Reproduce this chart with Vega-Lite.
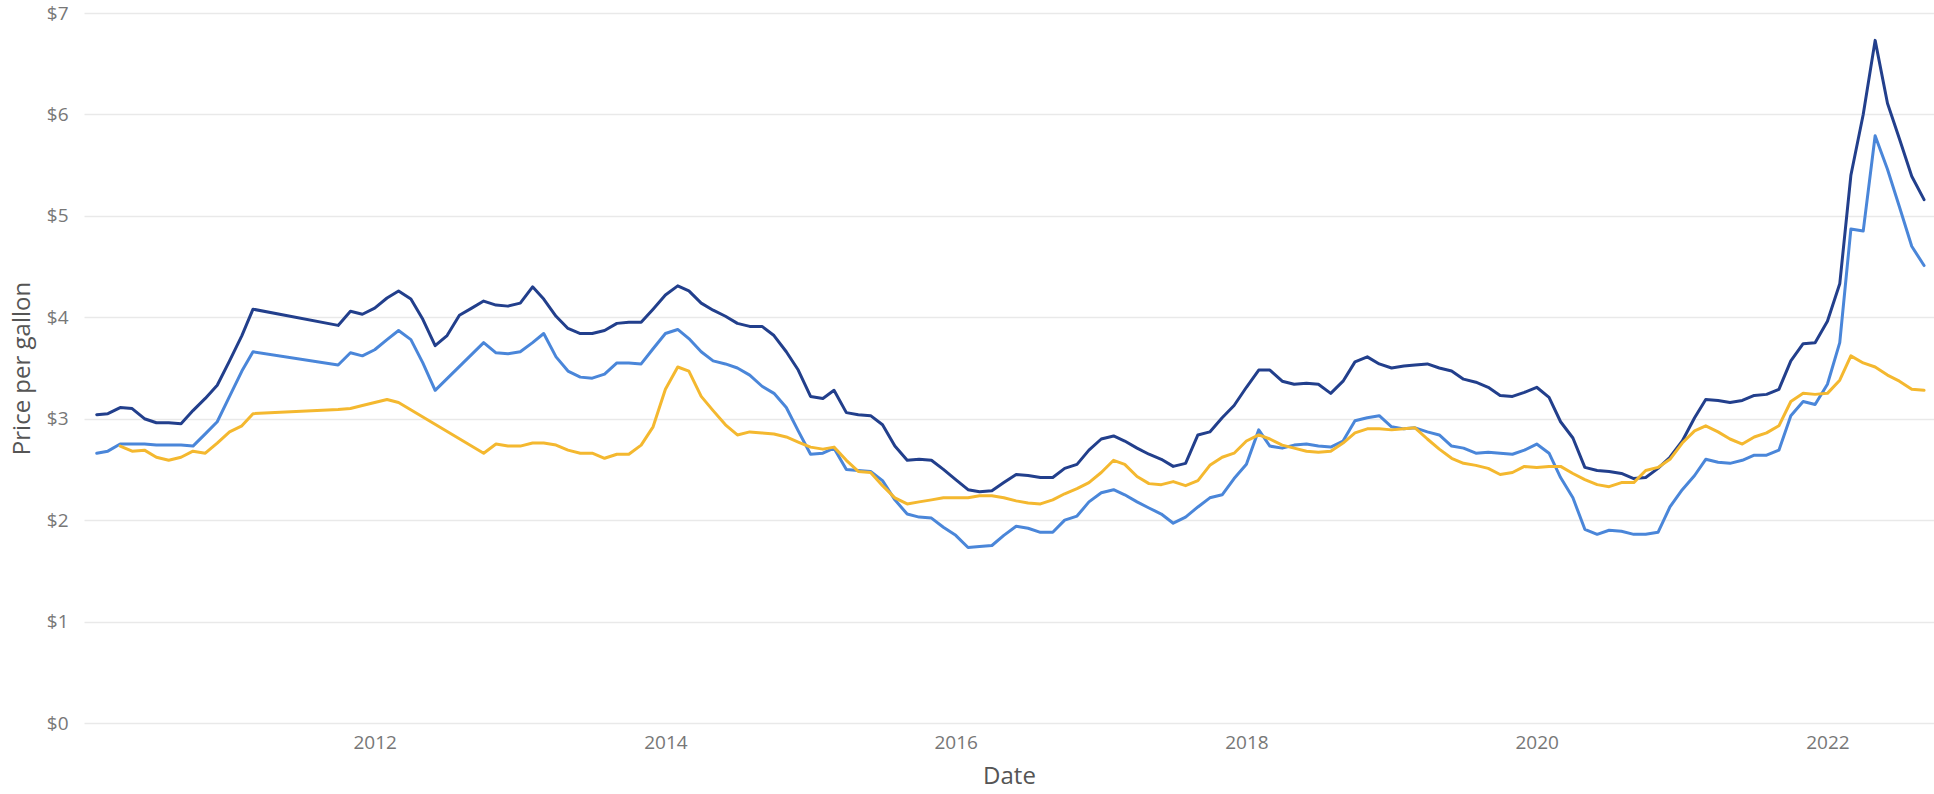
{
"$schema": "https://vega.github.io/schema/vega-lite/v6.json",
"width": 1850,
"height": 710,
"autosize": {"type": "none"},
"padding": {"left": 84, "top": 13, "right": 0, "bottom": 71},
"background": "white",
"config": {"view": {"stroke": null}, "font": "Open Sans"},
"datasets": {
"prices": [
{"date":"2010-02-01","series":"A","price":3.04},{"date":"2010-03-01","series":"A","price":3.05},{"date":"2010-04-01","series":"A","price":3.11},{"date":"2010-05-01","series":"A","price":3.10},{"date":"2010-06-01","series":"A","price":3.00},{"date":"2010-07-01","series":"A","price":2.96},{"date":"2010-08-01","series":"A","price":2.96},{"date":"2010-09-01","series":"A","price":2.95},{"date":"2010-10-01","series":"A","price":3.08},{"date":"2010-11-01","series":"A","price":3.20},{"date":"2010-12-01","series":"A","price":3.33},
{"date":"2011-01-01","series":"A","price":3.57},{"date":"2011-02-01","series":"A","price":3.82},{"date":"2011-03-01","series":"A","price":4.08},{"date":"2011-10-01","series":"A","price":3.92},{"date":"2011-11-01","series":"A","price":4.06},{"date":"2011-12-01","series":"A","price":4.03},
{"date":"2012-01-01","series":"A","price":4.09},{"date":"2012-02-01","series":"A","price":4.19},{"date":"2012-03-01","series":"A","price":4.26},{"date":"2012-04-01","series":"A","price":4.18},{"date":"2012-05-01","series":"A","price":3.98},{"date":"2012-06-01","series":"A","price":3.72},{"date":"2012-07-01","series":"A","price":3.82},{"date":"2012-08-01","series":"A","price":4.02},{"date":"2012-09-01","series":"A","price":4.09},{"date":"2012-10-01","series":"A","price":4.16},{"date":"2012-11-01","series":"A","price":4.12},{"date":"2012-12-01","series":"A","price":4.11},
{"date":"2013-01-01","series":"A","price":4.14},{"date":"2013-02-01","series":"A","price":4.30},{"date":"2013-03-01","series":"A","price":4.18},{"date":"2013-04-01","series":"A","price":4.01},{"date":"2013-05-01","series":"A","price":3.89},{"date":"2013-06-01","series":"A","price":3.84},{"date":"2013-07-01","series":"A","price":3.84},{"date":"2013-08-01","series":"A","price":3.87},{"date":"2013-09-01","series":"A","price":3.94},{"date":"2013-10-01","series":"A","price":3.95},{"date":"2013-11-01","series":"A","price":3.95},{"date":"2013-12-01","series":"A","price":4.08},
{"date":"2014-01-01","series":"A","price":4.22},{"date":"2014-02-01","series":"A","price":4.31},{"date":"2014-03-01","series":"A","price":4.26},{"date":"2014-04-01","series":"A","price":4.14},{"date":"2014-05-01","series":"A","price":4.07},{"date":"2014-06-01","series":"A","price":4.01},{"date":"2014-07-01","series":"A","price":3.94},{"date":"2014-08-01","series":"A","price":3.91},{"date":"2014-09-01","series":"A","price":3.91},{"date":"2014-10-01","series":"A","price":3.82},{"date":"2014-11-01","series":"A","price":3.66},{"date":"2014-12-01","series":"A","price":3.48},
{"date":"2015-01-01","series":"A","price":3.22},{"date":"2015-02-01","series":"A","price":3.20},{"date":"2015-03-01","series":"A","price":3.28},{"date":"2015-04-01","series":"A","price":3.06},{"date":"2015-05-01","series":"A","price":3.04},{"date":"2015-06-01","series":"A","price":3.03},{"date":"2015-07-01","series":"A","price":2.94},{"date":"2015-08-01","series":"A","price":2.73},{"date":"2015-09-01","series":"A","price":2.59},{"date":"2015-10-01","series":"A","price":2.60},{"date":"2015-11-01","series":"A","price":2.59},{"date":"2015-12-01","series":"A","price":2.50},
{"date":"2016-01-01","series":"A","price":2.40},{"date":"2016-02-01","series":"A","price":2.30},{"date":"2016-03-01","series":"A","price":2.28},{"date":"2016-04-01","series":"A","price":2.29},{"date":"2016-05-01","series":"A","price":2.37},{"date":"2016-06-01","series":"A","price":2.45},{"date":"2016-07-01","series":"A","price":2.44},{"date":"2016-08-01","series":"A","price":2.42},{"date":"2016-09-01","series":"A","price":2.42},{"date":"2016-10-01","series":"A","price":2.51},{"date":"2016-11-01","series":"A","price":2.55},{"date":"2016-12-01","series":"A","price":2.69},
{"date":"2017-01-01","series":"A","price":2.80},{"date":"2017-02-01","series":"A","price":2.83},{"date":"2017-03-01","series":"A","price":2.78},{"date":"2017-04-01","series":"A","price":2.71},{"date":"2017-05-01","series":"A","price":2.65},{"date":"2017-06-01","series":"A","price":2.60},{"date":"2017-07-01","series":"A","price":2.53},{"date":"2017-08-01","series":"A","price":2.56},{"date":"2017-09-01","series":"A","price":2.84},{"date":"2017-10-01","series":"A","price":2.87},{"date":"2017-11-01","series":"A","price":3.01},{"date":"2017-12-01","series":"A","price":3.13},
{"date":"2018-01-01","series":"A","price":3.31},{"date":"2018-02-01","series":"A","price":3.48},{"date":"2018-03-01","series":"A","price":3.48},{"date":"2018-04-01","series":"A","price":3.37},{"date":"2018-05-01","series":"A","price":3.34},{"date":"2018-06-01","series":"A","price":3.35},{"date":"2018-07-01","series":"A","price":3.34},{"date":"2018-08-01","series":"A","price":3.25},{"date":"2018-09-01","series":"A","price":3.37},{"date":"2018-10-01","series":"A","price":3.56},{"date":"2018-11-01","series":"A","price":3.61},{"date":"2018-12-01","series":"A","price":3.54},
{"date":"2019-01-01","series":"A","price":3.50},{"date":"2019-02-01","series":"A","price":3.52},{"date":"2019-03-01","series":"A","price":3.53},{"date":"2019-04-01","series":"A","price":3.54},{"date":"2019-05-01","series":"A","price":3.50},{"date":"2019-06-01","series":"A","price":3.47},{"date":"2019-07-01","series":"A","price":3.39},{"date":"2019-08-01","series":"A","price":3.36},{"date":"2019-09-01","series":"A","price":3.31},{"date":"2019-10-01","series":"A","price":3.23},{"date":"2019-11-01","series":"A","price":3.22},{"date":"2019-12-01","series":"A","price":3.26},
{"date":"2020-01-01","series":"A","price":3.31},{"date":"2020-02-01","series":"A","price":3.21},{"date":"2020-03-01","series":"A","price":2.97},{"date":"2020-04-01","series":"A","price":2.81},{"date":"2020-05-01","series":"A","price":2.52},{"date":"2020-06-01","series":"A","price":2.49},{"date":"2020-07-01","series":"A","price":2.48},{"date":"2020-08-01","series":"A","price":2.46},{"date":"2020-09-01","series":"A","price":2.41},{"date":"2020-10-01","series":"A","price":2.42},{"date":"2020-11-01","series":"A","price":2.51},{"date":"2020-12-01","series":"A","price":2.62},
{"date":"2021-01-01","series":"A","price":2.78},{"date":"2021-02-01","series":"A","price":3.01},{"date":"2021-03-01","series":"A","price":3.19},{"date":"2021-04-01","series":"A","price":3.18},{"date":"2021-05-01","series":"A","price":3.16},{"date":"2021-06-01","series":"A","price":3.18},{"date":"2021-07-01","series":"A","price":3.23},{"date":"2021-08-01","series":"A","price":3.24},{"date":"2021-09-01","series":"A","price":3.29},{"date":"2021-10-01","series":"A","price":3.57},{"date":"2021-11-01","series":"A","price":3.74},{"date":"2021-12-01","series":"A","price":3.75},
{"date":"2022-01-01","series":"A","price":3.96},{"date":"2022-02-01","series":"A","price":4.33},{"date":"2022-03-01","series":"A","price":5.40},{"date":"2022-04-01","series":"A","price":6.00},{"date":"2022-05-01","series":"A","price":6.73},{"date":"2022-06-01","series":"A","price":6.11},{"date":"2022-07-01","series":"A","price":5.76},{"date":"2022-08-01","series":"A","price":5.39},{"date":"2022-09-01","series":"A","price":5.16},

{"date":"2010-02-01","series":"B","price":2.66},{"date":"2010-03-01","series":"B","price":2.68},{"date":"2010-04-01","series":"B","price":2.75},{"date":"2010-05-01","series":"B","price":2.75},{"date":"2010-06-01","series":"B","price":2.75},{"date":"2010-07-01","series":"B","price":2.74},{"date":"2010-08-01","series":"B","price":2.74},{"date":"2010-09-01","series":"B","price":2.74},{"date":"2010-10-01","series":"B","price":2.73},{"date":"2010-11-01","series":"B","price":2.85},{"date":"2010-12-01","series":"B","price":2.97},
{"date":"2011-01-01","series":"B","price":3.22},{"date":"2011-02-01","series":"B","price":3.47},{"date":"2011-03-01","series":"B","price":3.66},{"date":"2011-10-01","series":"B","price":3.53},{"date":"2011-11-01","series":"B","price":3.65},{"date":"2011-12-01","series":"B","price":3.62},
{"date":"2012-01-01","series":"B","price":3.68},{"date":"2012-02-01","series":"B","price":3.78},{"date":"2012-03-01","series":"B","price":3.87},{"date":"2012-04-01","series":"B","price":3.78},{"date":"2012-05-01","series":"B","price":3.55},{"date":"2012-06-01","series":"B","price":3.28},{"date":"2012-10-01","series":"B","price":3.75},{"date":"2012-11-01","series":"B","price":3.65},{"date":"2012-12-01","series":"B","price":3.64},
{"date":"2013-01-01","series":"B","price":3.66},{"date":"2013-02-01","series":"B","price":3.75},{"date":"2013-03-01","series":"B","price":3.84},{"date":"2013-04-01","series":"B","price":3.61},{"date":"2013-05-01","series":"B","price":3.47},{"date":"2013-06-01","series":"B","price":3.41},{"date":"2013-07-01","series":"B","price":3.40},{"date":"2013-08-01","series":"B","price":3.44},{"date":"2013-09-01","series":"B","price":3.55},{"date":"2013-10-01","series":"B","price":3.55},{"date":"2013-11-01","series":"B","price":3.54},{"date":"2013-12-01","series":"B","price":3.69},
{"date":"2014-01-01","series":"B","price":3.84},{"date":"2014-02-01","series":"B","price":3.88},{"date":"2014-03-01","series":"B","price":3.79},{"date":"2014-04-01","series":"B","price":3.66},{"date":"2014-05-01","series":"B","price":3.57},{"date":"2014-06-01","series":"B","price":3.54},{"date":"2014-07-01","series":"B","price":3.50},{"date":"2014-08-01","series":"B","price":3.43},{"date":"2014-09-01","series":"B","price":3.32},{"date":"2014-10-01","series":"B","price":3.25},{"date":"2014-11-01","series":"B","price":3.11},{"date":"2014-12-01","series":"B","price":2.88},
{"date":"2015-01-01","series":"B","price":2.65},{"date":"2015-02-01","series":"B","price":2.66},{"date":"2015-03-01","series":"B","price":2.71},{"date":"2015-04-01","series":"B","price":2.50},{"date":"2015-05-01","series":"B","price":2.49},{"date":"2015-06-01","series":"B","price":2.48},{"date":"2015-07-01","series":"B","price":2.39},{"date":"2015-08-01","series":"B","price":2.20},{"date":"2015-09-01","series":"B","price":2.06},{"date":"2015-10-01","series":"B","price":2.03},{"date":"2015-11-01","series":"B","price":2.02},{"date":"2015-12-01","series":"B","price":1.93},
{"date":"2016-01-01","series":"B","price":1.85},{"date":"2016-02-01","series":"B","price":1.73},{"date":"2016-03-01","series":"B","price":1.74},{"date":"2016-04-01","series":"B","price":1.75},{"date":"2016-05-01","series":"B","price":1.85},{"date":"2016-06-01","series":"B","price":1.94},{"date":"2016-07-01","series":"B","price":1.92},{"date":"2016-08-01","series":"B","price":1.88},{"date":"2016-09-01","series":"B","price":1.88},{"date":"2016-10-01","series":"B","price":2.00},{"date":"2016-11-01","series":"B","price":2.04},{"date":"2016-12-01","series":"B","price":2.18},
{"date":"2017-01-01","series":"B","price":2.27},{"date":"2017-02-01","series":"B","price":2.30},{"date":"2017-03-01","series":"B","price":2.25},{"date":"2017-04-01","series":"B","price":2.18},{"date":"2017-05-01","series":"B","price":2.12},{"date":"2017-06-01","series":"B","price":2.06},{"date":"2017-07-01","series":"B","price":1.97},{"date":"2017-08-01","series":"B","price":2.03},{"date":"2017-09-01","series":"B","price":2.13},{"date":"2017-10-01","series":"B","price":2.22},{"date":"2017-11-01","series":"B","price":2.25},{"date":"2017-12-01","series":"B","price":2.41},
{"date":"2018-01-01","series":"B","price":2.55},{"date":"2018-02-01","series":"B","price":2.89},{"date":"2018-03-01","series":"B","price":2.73},{"date":"2018-04-01","series":"B","price":2.71},{"date":"2018-05-01","series":"B","price":2.74},{"date":"2018-06-01","series":"B","price":2.75},{"date":"2018-07-01","series":"B","price":2.73},{"date":"2018-08-01","series":"B","price":2.72},{"date":"2018-09-01","series":"B","price":2.78},{"date":"2018-10-01","series":"B","price":2.98},{"date":"2018-11-01","series":"B","price":3.01},{"date":"2018-12-01","series":"B","price":3.03},
{"date":"2019-01-01","series":"B","price":2.92},{"date":"2019-02-01","series":"B","price":2.90},{"date":"2019-03-01","series":"B","price":2.91},{"date":"2019-04-01","series":"B","price":2.87},{"date":"2019-05-01","series":"B","price":2.84},{"date":"2019-06-01","series":"B","price":2.73},{"date":"2019-07-01","series":"B","price":2.71},{"date":"2019-08-01","series":"B","price":2.66},{"date":"2019-09-01","series":"B","price":2.67},{"date":"2019-10-01","series":"B","price":2.66},{"date":"2019-11-01","series":"B","price":2.65},{"date":"2019-12-01","series":"B","price":2.69},
{"date":"2020-01-01","series":"B","price":2.75},{"date":"2020-02-01","series":"B","price":2.66},{"date":"2020-03-01","series":"B","price":2.42},{"date":"2020-04-01","series":"B","price":2.22},{"date":"2020-05-01","series":"B","price":1.91},{"date":"2020-06-01","series":"B","price":1.86},{"date":"2020-07-01","series":"B","price":1.90},{"date":"2020-08-01","series":"B","price":1.89},{"date":"2020-09-01","series":"B","price":1.86},{"date":"2020-10-01","series":"B","price":1.86},{"date":"2020-11-01","series":"B","price":1.88},{"date":"2020-12-01","series":"B","price":2.13},
{"date":"2021-01-01","series":"B","price":2.30},{"date":"2021-02-01","series":"B","price":2.44},{"date":"2021-03-01","series":"B","price":2.60},{"date":"2021-04-01","series":"B","price":2.57},{"date":"2021-05-01","series":"B","price":2.56},{"date":"2021-06-01","series":"B","price":2.59},{"date":"2021-07-01","series":"B","price":2.64},{"date":"2021-08-01","series":"B","price":2.64},{"date":"2021-09-01","series":"B","price":2.69},{"date":"2021-10-01","series":"B","price":3.03},{"date":"2021-11-01","series":"B","price":3.17},{"date":"2021-12-01","series":"B","price":3.14},
{"date":"2022-01-01","series":"B","price":3.34},{"date":"2022-02-01","series":"B","price":3.75},{"date":"2022-03-01","series":"B","price":4.87},{"date":"2022-04-01","series":"B","price":4.85},{"date":"2022-05-01","series":"B","price":5.79},{"date":"2022-06-01","series":"B","price":5.46},{"date":"2022-07-01","series":"B","price":5.09},{"date":"2022-08-01","series":"B","price":4.70},{"date":"2022-09-01","series":"B","price":4.51},

{"date":"2010-04-01","series":"C","price":2.73},{"date":"2010-05-01","series":"C","price":2.68},{"date":"2010-06-01","series":"C","price":2.69},{"date":"2010-07-01","series":"C","price":2.62},{"date":"2010-08-01","series":"C","price":2.59},{"date":"2010-09-01","series":"C","price":2.62},{"date":"2010-10-01","series":"C","price":2.68},{"date":"2010-11-01","series":"C","price":2.66},{"date":"2010-12-01","series":"C","price":2.76},
{"date":"2011-01-01","series":"C","price":2.87},{"date":"2011-02-01","series":"C","price":2.93},{"date":"2011-03-01","series":"C","price":3.05},{"date":"2011-10-01","series":"C","price":3.09},{"date":"2011-11-01","series":"C","price":3.10},{"date":"2011-12-01","series":"C","price":3.13},
{"date":"2012-01-01","series":"C","price":3.16},{"date":"2012-02-01","series":"C","price":3.19},{"date":"2012-03-01","series":"C","price":3.16},{"date":"2012-10-01","series":"C","price":2.66},{"date":"2012-11-01","series":"C","price":2.75},{"date":"2012-12-01","series":"C","price":2.73},
{"date":"2013-01-01","series":"C","price":2.73},{"date":"2013-02-01","series":"C","price":2.76},{"date":"2013-03-01","series":"C","price":2.76},{"date":"2013-04-01","series":"C","price":2.74},{"date":"2013-05-01","series":"C","price":2.69},{"date":"2013-06-01","series":"C","price":2.66},{"date":"2013-07-01","series":"C","price":2.66},{"date":"2013-08-01","series":"C","price":2.61},{"date":"2013-09-01","series":"C","price":2.65},{"date":"2013-10-01","series":"C","price":2.65},{"date":"2013-11-01","series":"C","price":2.74},{"date":"2013-12-01","series":"C","price":2.92},
{"date":"2014-01-01","series":"C","price":3.29},{"date":"2014-02-01","series":"C","price":3.51},{"date":"2014-03-01","series":"C","price":3.47},{"date":"2014-04-01","series":"C","price":3.22},{"date":"2014-05-01","series":"C","price":3.08},{"date":"2014-06-01","series":"C","price":2.94},{"date":"2014-07-01","series":"C","price":2.84},{"date":"2014-08-01","series":"C","price":2.87},{"date":"2014-09-01","series":"C","price":2.86},{"date":"2014-10-01","series":"C","price":2.85},{"date":"2014-11-01","series":"C","price":2.82},{"date":"2014-12-01","series":"C","price":2.77},
{"date":"2015-01-01","series":"C","price":2.72},{"date":"2015-02-01","series":"C","price":2.70},{"date":"2015-03-01","series":"C","price":2.72},{"date":"2015-04-01","series":"C","price":2.59},{"date":"2015-05-01","series":"C","price":2.48},{"date":"2015-06-01","series":"C","price":2.47},{"date":"2015-07-01","series":"C","price":2.34},{"date":"2015-08-01","series":"C","price":2.22},{"date":"2015-09-01","series":"C","price":2.16},{"date":"2015-10-01","series":"C","price":2.18},{"date":"2015-11-01","series":"C","price":2.20},{"date":"2015-12-01","series":"C","price":2.22},
{"date":"2016-01-01","series":"C","price":2.22},{"date":"2016-02-01","series":"C","price":2.22},{"date":"2016-03-01","series":"C","price":2.24},{"date":"2016-04-01","series":"C","price":2.24},{"date":"2016-05-01","series":"C","price":2.22},{"date":"2016-06-01","series":"C","price":2.19},{"date":"2016-07-01","series":"C","price":2.17},{"date":"2016-08-01","series":"C","price":2.16},{"date":"2016-09-01","series":"C","price":2.20},{"date":"2016-10-01","series":"C","price":2.26},{"date":"2016-11-01","series":"C","price":2.31},{"date":"2016-12-01","series":"C","price":2.37},
{"date":"2017-01-01","series":"C","price":2.47},{"date":"2017-02-01","series":"C","price":2.59},{"date":"2017-03-01","series":"C","price":2.55},{"date":"2017-04-01","series":"C","price":2.43},{"date":"2017-05-01","series":"C","price":2.36},{"date":"2017-06-01","series":"C","price":2.35},{"date":"2017-07-01","series":"C","price":2.38},{"date":"2017-08-01","series":"C","price":2.34},{"date":"2017-09-01","series":"C","price":2.39},{"date":"2017-10-01","series":"C","price":2.54},{"date":"2017-11-01","series":"C","price":2.62},{"date":"2017-12-01","series":"C","price":2.66},
{"date":"2018-01-01","series":"C","price":2.78},{"date":"2018-02-01","series":"C","price":2.84},{"date":"2018-03-01","series":"C","price":2.80},{"date":"2018-04-01","series":"C","price":2.74},{"date":"2018-05-01","series":"C","price":2.71},{"date":"2018-06-01","series":"C","price":2.68},{"date":"2018-07-01","series":"C","price":2.67},{"date":"2018-08-01","series":"C","price":2.68},{"date":"2018-09-01","series":"C","price":2.76},{"date":"2018-10-01","series":"C","price":2.86},{"date":"2018-11-01","series":"C","price":2.90},{"date":"2018-12-01","series":"C","price":2.90},
{"date":"2019-01-01","series":"C","price":2.89},{"date":"2019-02-01","series":"C","price":2.90},{"date":"2019-03-01","series":"C","price":2.91},{"date":"2019-04-01","series":"C","price":2.80},{"date":"2019-05-01","series":"C","price":2.70},{"date":"2019-06-01","series":"C","price":2.61},{"date":"2019-07-01","series":"C","price":2.56},{"date":"2019-08-01","series":"C","price":2.54},{"date":"2019-09-01","series":"C","price":2.51},{"date":"2019-10-01","series":"C","price":2.45},{"date":"2019-11-01","series":"C","price":2.47},{"date":"2019-12-01","series":"C","price":2.53},
{"date":"2020-01-01","series":"C","price":2.52},{"date":"2020-02-01","series":"C","price":2.53},{"date":"2020-03-01","series":"C","price":2.53},{"date":"2020-04-01","series":"C","price":2.46},{"date":"2020-05-01","series":"C","price":2.40},{"date":"2020-06-01","series":"C","price":2.35},{"date":"2020-07-01","series":"C","price":2.33},{"date":"2020-08-01","series":"C","price":2.37},{"date":"2020-09-01","series":"C","price":2.37},{"date":"2020-10-01","series":"C","price":2.49},{"date":"2020-11-01","series":"C","price":2.52},{"date":"2020-12-01","series":"C","price":2.60},
{"date":"2021-01-01","series":"C","price":2.76},{"date":"2021-02-01","series":"C","price":2.88},{"date":"2021-03-01","series":"C","price":2.93},{"date":"2021-04-01","series":"C","price":2.87},{"date":"2021-05-01","series":"C","price":2.80},{"date":"2021-06-01","series":"C","price":2.75},{"date":"2021-07-01","series":"C","price":2.82},{"date":"2021-08-01","series":"C","price":2.86},{"date":"2021-09-01","series":"C","price":2.93},{"date":"2021-10-01","series":"C","price":3.17},{"date":"2021-11-01","series":"C","price":3.25},{"date":"2021-12-01","series":"C","price":3.24},
{"date":"2022-01-01","series":"C","price":3.25},{"date":"2022-02-01","series":"C","price":3.38},{"date":"2022-03-01","series":"C","price":3.62},{"date":"2022-04-01","series":"C","price":3.55},{"date":"2022-05-01","series":"C","price":3.51},{"date":"2022-06-01","series":"C","price":3.43},{"date":"2022-07-01","series":"C","price":3.37},{"date":"2022-08-01","series":"C","price":3.29},{"date":"2022-09-01","series":"C","price":3.28}
]
},
"data": {"name": "prices"},
"mark": {"type": "line", "strokeWidth": 3, "strokeJoin": "round", "strokeCap": "round"},
"encoding": {
"x": {
"field": "date", "type": "temporal",
"scale": {"type": "utc", "domain": [{"year": 2009, "month": 12, "date": 31, "utc": true}, {"year": 2022, "month": 9, "date": 26, "utc": true}]},
"axis": {
"title": "Date",
"values": [{"year": 2012, "month": 1, "date": 1, "utc": true}, {"year": 2014, "month": 1, "date": 1, "utc": true}, {"year": 2016, "month": 1, "date": 1, "utc": true}, {"year": 2018, "month": 1, "date": 1, "utc": true}, {"year": 2020, "month": 1, "date": 1, "utc": true}, {"year": 2022, "month": 1, "date": 1, "utc": true}],
"format": "%Y",
"grid": false, "domain": false, "ticks": false, "tickSize": 0,
"labelPadding": 10, "labelFontSize": 19, "labelColor": "#777777", "labelFlush": false,
"titleFontSize": 24, "titleFontWeight": "normal", "titleColor": "#555555", "titlePadding": 12
}
},
"y": {
"field": "price", "type": "quantitative",
"scale": {"domain": [0, 7], "nice": false, "zero": true},
"axis": {
"title": "Price per gallon",
"values": [0, 1, 2, 3, 4, 5, 6, 7],
"format": "$.0f",
"grid": true, "gridColor": "#e9e9e9", "gridWidth": 1.5,
"domain": false, "ticks": false, "tickSize": 0,
"labelPadding": 16, "labelFontSize": 19, "labelColor": "#777777",
"titleFontSize": 24, "titleFontWeight": "normal", "titleColor": "#555555", "titlePadding": 12
}
},
"color": {
"field": "series", "type": "nominal",
"scale": {"domain": ["A", "B", "C"], "range": ["#223F8C", "#4A86D9", "#F4B82F"]},
"legend": null
}
}
}
